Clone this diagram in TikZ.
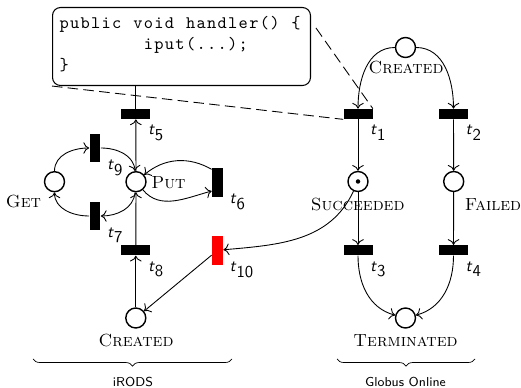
\documentclass[tikz,border=0pt]{standalone}
\usetikzlibrary{arrows.meta,decorations.pathreplacing,calc}

% one fixed-width column per character, as in a listing
\def\codeloop#1{\ifx#1\relax\else\makebox[0.6em]{#1}\expandafter\codeloop\fi}
\newcommand\codeline[1]{{\ttfamily\codeloop#1\relax}}
% transition names
\newcommand\tname[1]{$\textsf{\textsl{t}}_{\textsf{#1}}$}

\begin{document}
\begin{tikzpicture}[x=0.02cm,y=-0.02cm,
  >={To[length=3.3pt,width=6.6pt]},
  place/.style={circle,draw,line width=0.8pt,minimum size=0.4cm,inner sep=0pt},
  htrans/.style={rectangle,fill=black,minimum width=0.58cm,minimum height=0.2cm,inner sep=0pt},
  vtrans/.style={rectangle,fill=black,minimum width=0.22cm,minimum height=0.58cm,inner sep=0pt},
  hlab/.style={inner sep=0pt,anchor=north west,xshift=-0.06cm,yshift=-0.11cm,font=\fontsize{9.5}{11}\selectfont},
  vlab/.style={inner sep=0pt,anchor=north west,xshift=0.12cm,yshift=0.07cm,font=\fontsize{9.5}{11}\selectfont},
  plab/.style={inner sep=0pt,font=\scshape},
  arc/.style={->,line width=0.5pt},
  zoomline/.style={line width=0.5pt,dash pattern=on 6pt off 3pt},
  groupbrace/.style={decorate,decoration={brace,mirror,amplitude=4pt}},
  grouplab/.style={inner sep=0pt,font=\sffamily\fontsize{7.4}{9}\selectfont}]
\useasboundingbox (0,0) rectangle (521,388);

% handler code
\node[draw,semithick,rounded corners=0.16cm,minimum width=5.16cm,minimum height=1.56cm,
      anchor=north west,inner sep=0pt] (code) at (52,7) {};
\node[anchor=base west,inner sep=0pt] (codeA) at (58.5,28.3) {\codeline{public~void~handler()~\{}};
\node[anchor=base west,inner sep=0pt] (codeB) at (58.5,49.8) {\codeline{~~~~~~~~iput(...);}};
\node[anchor=base west,inner sep=0pt] (codeC) at (58.5,70.5) {\codeline{\}}};

% places
\node[place] (cr)   at (405.5,47.5) {};
\node[place] (suc)  at (358,181.5) {};
\node[circle,fill,inner sep=0pt,minimum size=0.09cm] (tok) at (suc) {};
\node[place] (fail) at (453.7,181.5) {};
\node[place] (term) at (405.5,318) {};
\node[place] (icr)  at (135.8,318) {};
\node[place] (put)  at (136,181.7) {};
\node[place] (get)  at (54.5,181.7) {};

\node[plab] (lcr)   at (406,68) {Created};
\node[plab] (lsuc)  at (357.7,205) {Succeeded};
\node[plab] (lfail) at (493,205) {Failed};
\node[plab] (lterm) at (405.5,341) {Terminated};
\node[plab] (licr)  at (136,341) {Created};
\node[plab] (lput)  at (168.5,183) {Put};
\node[plab] (lget)  at (23.5,202) {Get};

% transitions
\node[htrans] (t1) at (358,114) {};
\node[htrans] (t2) at (453.5,114) {};
\node[htrans] (t3) at (358,250.3) {};
\node[htrans] (t4) at (453.5,250.3) {};
\node[htrans] (t5) at (135.8,114) {};
\node[htrans] (t8) at (135.8,250.3) {};
\node[vtrans] (t9) at (95,148) {};
\node[vtrans] (t7) at (95,216) {};
\node[vtrans] (t6) at (217.5,182.2) {};
\node[vtrans,fill=red] (t10) at (217.5,250.3) {};

\node[hlab] (lt1) at (t1.south east) {\tname{1}};
\node[hlab] (lt2) at (t2.south east) {\tname{2}};
\node[hlab] (lt3) at (t3.south east) {\tname{3}};
\node[hlab] (lt4) at (t4.south east) {\tname{4}};
\node[hlab] (lt5) at (t5.south east) {\tname{5}};
\node[hlab] (lt8) at (t8.south east) {\tname{8}};
\node[vlab] (lt9) at (t9.south east) {\tname{9}};
\node[vlab] (lt7) at (t7.south east) {\tname{7}};
\node[vlab] (lt6) at (t6.south east) {\tname{6}};
\node[vlab] (lt10) at (t10.south east) {\tname{10}};

% Globus Online net
\draw[arc] (cr) to[out=180,in=90] (t1);
\draw[arc] (cr) to[out=0,in=90] (t2);
\draw[arc] (t1) -- (suc);
\draw[arc] (t2) -- (fail);
\draw[arc] (suc) -- (t3);
\draw[arc] (fail) -- (t4);
\draw[arc] (t3) to[out=-90,in=165] (term);
\draw[arc] (t4) to[out=-90,in=15] (term);

% iRODS net
\draw[arc] (icr) -- (t8);
\draw[arc] (t8) -- (put);
\draw[arc] (put) -- (t5);
\draw[line width=0.5pt] (t5.north) -- (t5.north |- code.south);
\draw[arc] (get) to[out=90,in=180] (t9);
\draw[arc] (t9) to[out=0,in=95] (put);
\draw[arc] (put) to[out=-95,in=0] (t7);
\draw[arc] (t7) to[out=180,in=-90] (get);
\draw[arc] (put) to[out=-50,in=195] ([yshift=0.12cm]t6.south west);
\draw[arc] ([yshift=-0.04cm]t6.north west) to[out=150,in=40] (put);

% coupling between the two nets
\draw[arc] (suc) to[out=245,in=5] (t10);
\draw[arc] (t10) -- (icr);

% zoom onto the handler of t1
\coordinate (lens) at (316,28);
\draw[zoomline] (code.south west) -- (t1.south west);
\draw[zoomline] (lens) -- (t1.north east);

% groups
\draw[groupbrace] (33,359) -- (232,359);
\draw[groupbrace] (337,359) -- (475,359);
\node[grouplab] (irods) at (133,382) {iRODS};
\node[grouplab] (globus) at (405.5,382) {Globus Online};
\end{tikzpicture}
\end{document}
